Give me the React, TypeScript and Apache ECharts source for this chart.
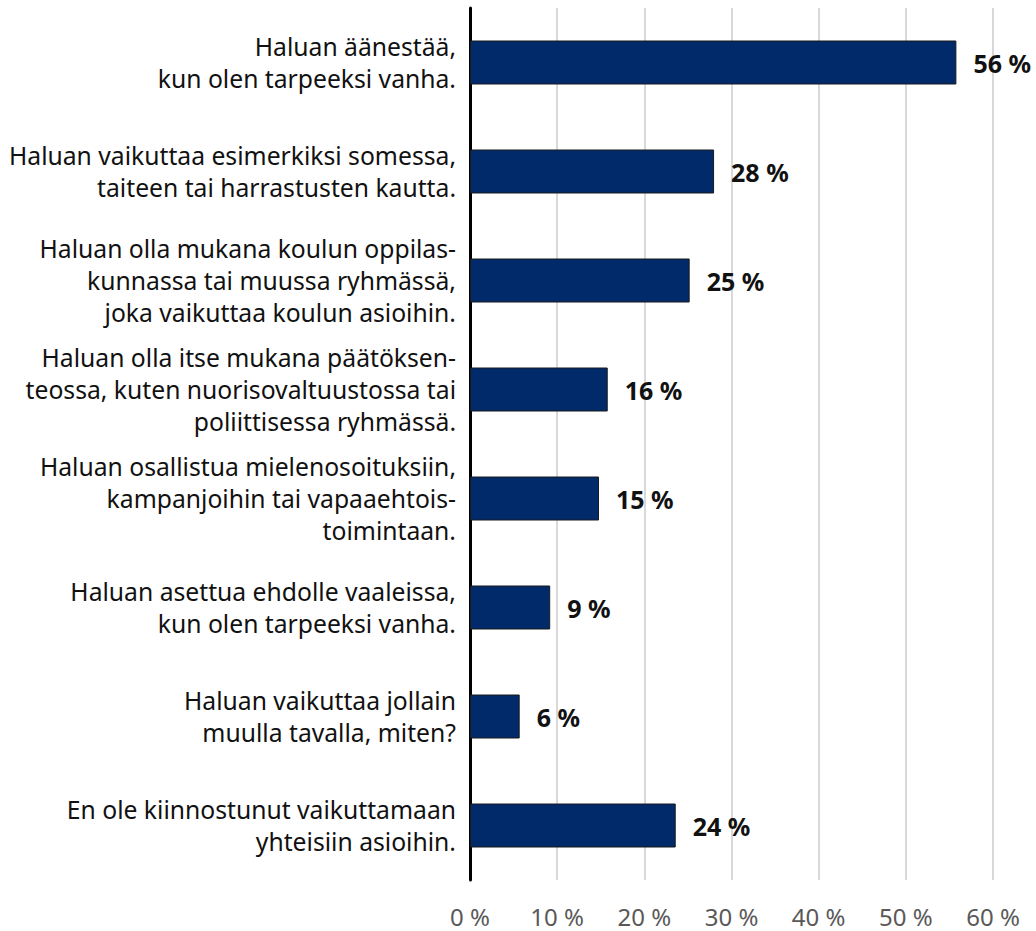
import React, { useEffect, useRef } from "react";
import * as echarts from "echarts";

const categories = [
  "Haluan äänestää,\nkun olen tarpeeksi vanha.",
  "Haluan vaikuttaa esimerkiksi somessa,\ntaiteen tai harrastusten kautta.",
  "Haluan olla mukana koulun oppilas-\nkunnassa tai muussa ryhmässä,\njoka vaikuttaa koulun asioihin.",
  "Haluan olla itse mukana päätöksen-\nteossa, kuten nuorisovaltuustossa tai\npoliittisessa ryhmässä.",
  "Haluan osallistua mielenosoituksiin,\nkampanjoihin tai vapaaehtois-\ntoimintaan.",
  "Haluan asettua ehdolle vaaleissa,\nkun olen tarpeeksi vanha.",
  "Haluan vaikuttaa jollain\nmuulla tavalla, miten?",
  "En ole kiinnostunut vaikuttamaan\nyhteisiin asioihin.",
];

const values = [55.8, 28.0, 25.2, 15.8, 14.8, 9.2, 5.7, 23.6];
const valueLabels = ["56 %", "28 %", "25 %", "16 %", "15 %", "9 %", "6 %", "24 %"];
const xTicks = [0, 10, 20, 30, 40, 50, 60];

const FONT = "'Noto Sans', 'Open Sans', sans-serif";

export default function App() {
  const ref = useRef<HTMLDivElement>(null);
  useEffect(() => {
    if (!ref.current) return;
    const chart = echarts.init(ref.current, undefined, { renderer: "svg" });
    chart.setOption({
      animation: false,
      textStyle: { fontFamily: FONT },
      grid: {
        left: 470,
        right: 43,
        top: 8,
        bottom: 51,
        containLabel: false,
        outerBoundsMode: "none",
      },
      xAxis: {
        type: "value",
        min: xTicks[0],
        max: xTicks[xTicks.length - 1],
        interval: 10,
        axisLine: { show: false },
        axisTick: { show: false },
        splitLine: { show: true, lineStyle: { color: "#d9d9d9", width: 2 } },
        axisLabel: {
          formatter: (v: number) => `${v} %`,
          color: "#595959",
          fontSize: 24,
          margin: 24,
          fontFamily: FONT,
        },
      },
      yAxis: {
        type: "category",
        inverse: true,
        data: categories,
        axisLine: { show: true, lineStyle: { color: "#000000", width: 3 } },
        axisTick: { show: false },
        axisLabel: {
          color: "#111111",
          fontSize: 24.7,
          lineHeight: 32,
          margin: 14,
          align: "right",
          fontFamily: FONT,
        },
      },
      series: [
        {
          type: "bar",
          data: values,
          barWidth: 44,
          itemStyle: { color: "#002a6a", borderColor: "#1a1a1a", borderWidth: 1 },
          label: {
            show: true,
            position: "right",
            distance: 17,
            formatter: (p: any) => valueLabels[p.dataIndex],
            color: "#111111",
            fontSize: 25,
            fontWeight: "bold",
            fontFamily: FONT,
          },
        },
      ],
    });
    return () => chart.dispose();
  }, []);
  return (
    <div
      ref={ref}
      style={{ position: "absolute", left: 0, top: 0, width: 1036, height: 931 }}
    />
  );
}
